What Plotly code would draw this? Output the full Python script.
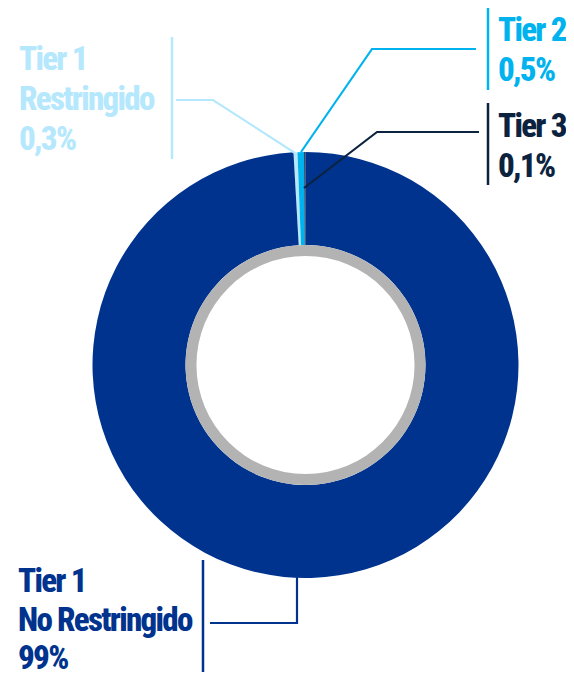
import plotly.graph_objects as go

# ---- data ----
categories = ["Tier 1 Restringido", "Tier 2", "Tier 3", "Tier 1 No Restringido"]
values = [0.3, 0.5, 0.1, 99]
value_text = ["0,3%", "0,5%", "0,1%", "99%"]
label_lines = [["Tier 1", "Restringido"], ["Tier 2"], ["Tier 3"], ["Tier 1", "No Restringido"]]
colors = ["#B5E8FC", "#00B3EF", "#0C2340", "#00338D"]

OFF = 8  # page body margin
W, H = 574 - 2 * OFF, 680 - 2 * OFF
FONT = "Roboto, Open Sans, DejaVu Sans Condensed, sans-serif"
FSIZE = 33

def px(x):
    return (x - OFF) / W

def py(y):
    return 1 - (y - OFF) / H

# donut geometry (pixels in the page)
cx, cy, R = 305.5, 365, 213
ring_out, ring_in = 120, 109

total = sum(values)
start = -(values[0] + values[1] + values[2]) / total * 360

fig = go.Figure()
fig.add_trace(go.Pie(
    labels=categories, values=values, sort=False, direction="clockwise",
    rotation=start, hole=ring_out / R, textinfo="none", hoverinfo="label+percent",
    marker=dict(colors=colors, line=dict(width=0)), showlegend=False,
    domain=dict(x=[px(cx - R), px(cx + R)], y=[py(cy + R), py(cy - R)]),
))
fig.add_trace(go.Pie(
    labels=["ring"], values=[1], sort=False, hole=ring_in / ring_out,
    textinfo="none", hoverinfo="skip", showlegend=False,
    marker=dict(colors=["#B3B3B3"], line=dict(width=0)),
    domain=dict(x=[px(cx - ring_out), px(cx + ring_out)],
                y=[py(cy + ring_out), py(cy - ring_out)]),
))

# label layout: (text x, first cap-centre y, line step, bar x, bar y0, bar y1, leader points)
label_pos = [
    (17, 59, 39.5, 172, 37, 159, [(176, 100), (213, 100), (295, 153)]),
    (496, 29.5, 39.5, 488, 7, 90, [(476, 49), (372, 49), (301, 152)]),
    (496, 125.5, 39.5, 488, 103, 185, [(479, 132), (377, 132), (304, 188)]),
    (16, 580.5, 38.5, 203, 560, 690, [(210, 623), (297, 623), (297, 577)]),
]

shapes = []
annotations = []
for i, (tx, ty, step, bx, by0, by1, pts) in enumerate(label_pos):
    col = colors[i]
    lines = label_lines[i] + [value_text[i]]
    for j, line in enumerate(lines):
        annotations.append(dict(
            text=f"<span style='font-stretch:75%;letter-spacing:-1.7px'>{line}</span>",
            x=px(tx), y=py(ty + j * step), xref="paper", yref="paper",
            xanchor="left", yanchor="middle", align="left", showarrow=False,
            font=dict(family=FONT, size=FSIZE, color=col, weight=800),
        ))
    shapes.append(dict(type="line", xref="paper", yref="paper",
                       x0=px(bx), x1=px(bx), y0=py(by0), y1=py(by1),
                       line=dict(color=col, width=2.5)))
    path = "M " + " L ".join(f"{px(x)},{py(y)}" for x, y in pts)
    shapes.append(dict(type="path", xref="paper", yref="paper", path=path,
                       line=dict(color=col, width=2.2)))

fig.update_layout(
    width=W, height=H, margin=dict(l=0, r=0, t=0, b=0),
    paper_bgcolor="white", plot_bgcolor="white",
    shapes=shapes, annotations=annotations,
)
fig.write_html("out.html")
